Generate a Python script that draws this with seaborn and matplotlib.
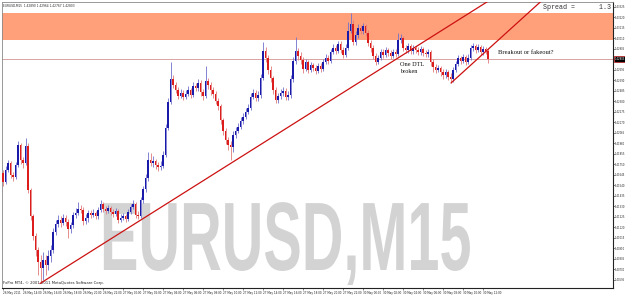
import numpy as np
import matplotlib
matplotlib.use("Agg")
import matplotlib.pyplot as plt
import seaborn as sns
from matplotlib.patheffects import AbstractPathEffect
from matplotlib.transforms import Affine2D, blended_transform_factory

# ---------------- data (EURUSD M15) ----------------
opens = [1.4166,1.4157,1.4169,1.4176,1.4164,1.4162,1.4174,1.4194,1.4179,1.4176,
 1.4193,1.4149,1.4123,1.4103,1.4089,1.4077,1.4071,1.4079,1.4074,1.4083,
 1.4089,1.4107,1.4115,1.4119,1.4116,1.4121,1.4117,1.4110,1.4114,1.4124,
 1.4126,1.4130,1.4129,1.4118,1.4121,1.4126,1.4124,1.4126,1.4123,1.4129,
 1.4135,1.4130,1.4128,1.4131,1.4127,1.4125,1.4128,1.4119,1.4121,1.4123,
 1.4120,1.4127,1.4132,1.4135,1.4124,1.4123,1.4139,1.4150,1.4161,1.4179,
 1.4176,1.4178,1.4174,1.4172,1.4173,1.4184,1.4211,1.4237,1.4260,1.4254,
 1.4249,1.4243,1.4246,1.4242,1.4245,1.4249,1.4244,1.4253,1.4251,1.4256,
 1.4247,1.4243,1.4258,1.4254,1.4249,1.4245,1.4238,1.4233,1.4219,1.4208,
 1.4199,1.4194,1.4192,1.4204,1.4208,1.4212,1.4218,1.4222,1.4227,1.4231,
 1.4242,1.4246,1.4241,1.4244,1.4261,1.4288,1.4281,1.4269,1.4261,1.4249,
 1.4239,1.4243,1.4246,1.4248,1.4242,1.4244,1.4260,1.4278,1.4288,1.4283,
 1.4279,1.4270,1.4277,1.4269,1.4274,1.4271,1.4268,1.4273,1.4270,1.4277,
 1.4281,1.4278,1.4287,1.4291,1.4288,1.4295,1.4289,1.4284,1.4291,1.4308,
 1.4315,1.4297,1.4304,1.4311,1.4308,1.4313,1.4306,1.4296,1.4291,1.4283,
 1.4277,1.4281,1.4287,1.4284,1.4289,1.4286,1.4283,1.4287,1.4285,1.4299,
 1.4301,1.4291,1.4289,1.4293,1.4288,1.4291,1.4289,1.4287,1.4290,1.4286,
 1.4285,1.4287,1.4277,1.4272,1.4269,1.4271,1.4267,1.4264,1.4267,1.4262,
 1.4260,1.4269,1.4275,1.4281,1.4278,1.4282,1.4277,1.4281,1.4291,1.4293,
 1.4289,1.4292,1.4287,1.4290,1.4288]
highs = [1.4169,1.4173,1.4179,1.4178,1.4167,1.4177,1.4198,1.4196,1.4182,1.4201,
 1.4196,1.4151,1.4125,1.4106,1.4092,1.4084,1.4087,1.4084,1.4089,1.4094,
 1.4111,1.4119,1.4124,1.4123,1.4125,1.4124,1.4120,1.4117,1.4127,1.4131,
 1.4137,1.4134,1.4132,1.4125,1.4129,1.4129,1.4130,1.4128,1.4132,1.4139,
 1.4137,1.4133,1.4134,1.4133,1.4130,1.4131,1.4130,1.4125,1.4126,1.4125,
 1.4130,1.4135,1.4139,1.4137,1.4128,1.4142,1.4153,1.4165,1.4187,1.4186,
 1.4183,1.4180,1.4177,1.4178,1.4188,1.4215,1.4241,1.4277,1.4264,1.4257,
 1.4252,1.4250,1.4249,1.4249,1.4253,1.4251,1.4257,1.4256,1.4260,1.4259,
 1.4250,1.4273,1.4261,1.4257,1.4252,1.4248,1.4241,1.4235,1.4221,1.4211,
 1.4202,1.4198,1.4208,1.4212,1.4216,1.4222,1.4226,1.4231,1.4235,1.4246,
 1.4250,1.4249,1.4248,1.4265,1.4297,1.4292,1.4284,1.4273,1.4263,1.4252,
 1.4246,1.4250,1.4252,1.4251,1.4248,1.4264,1.4282,1.4302,1.4291,1.4287,
 1.4282,1.4280,1.4279,1.4277,1.4276,1.4274,1.4276,1.4276,1.4280,1.4285,
 1.4284,1.4290,1.4295,1.4294,1.4298,1.4298,1.4292,1.4295,1.4317,1.4326,
 1.4319,1.4308,1.4315,1.4314,1.4316,1.4315,1.4309,1.4299,1.4294,1.4286,
 1.4284,1.4290,1.4290,1.4292,1.4291,1.4289,1.4290,1.4290,1.4306,1.4305,
 1.4303,1.4294,1.4296,1.4295,1.4294,1.4293,1.4292,1.4293,1.4292,1.4289,
 1.4290,1.4289,1.4280,1.4275,1.4274,1.4273,1.4270,1.4270,1.4269,1.4266,
 1.4272,1.4278,1.4284,1.4283,1.4285,1.4284,1.4285,1.4294,1.4296,1.4295,
 1.4295,1.4294,1.4293,1.4292,1.4291]
lows = [1.4153,1.4155,1.4167,1.4161,1.4158,1.4160,1.4172,1.4175,1.4171,1.4174,
 1.4146,1.4119,1.4099,1.4083,1.4064,1.4056,1.4059,1.4064,1.4069,1.4077,
 1.4086,1.4104,1.4112,1.4112,1.4114,1.4113,1.4101,1.4106,1.4111,1.4121,
 1.4124,1.4126,1.4114,1.4115,1.4117,1.4121,1.4122,1.4120,1.4120,1.4127,
 1.4127,1.4125,1.4126,1.4124,1.4122,1.4123,1.4116,1.4117,1.4119,1.4117,
 1.4118,1.4125,1.4130,1.4121,1.4120,1.4121,1.4136,1.4147,1.4158,1.4173,
 1.4172,1.4170,1.4168,1.4169,1.4171,1.4182,1.4209,1.4235,1.4251,1.4246,
 1.4240,1.4241,1.4239,1.4240,1.4243,1.4241,1.4242,1.4248,1.4248,1.4243,
 1.4239,1.4241,1.4250,1.4244,1.4241,1.4235,1.4229,1.4215,1.4204,1.4195,
 1.4189,1.4179,1.4187,1.4201,1.4206,1.4210,1.4215,1.4220,1.4225,1.4229,
 1.4240,1.4238,1.4238,1.4241,1.4259,1.4277,1.4265,1.4257,1.4245,1.4236,
 1.4236,1.4240,1.4243,1.4239,1.4239,1.4241,1.4257,1.4275,1.4279,1.4275,
 1.4266,1.4268,1.4266,1.4267,1.4268,1.4265,1.4266,1.4267,1.4268,1.4275,
 1.4275,1.4276,1.4285,1.4285,1.4286,1.4286,1.4281,1.4282,1.4289,1.4306,
 1.4294,1.4294,1.4301,1.4305,1.4305,1.4303,1.4293,1.4287,1.4280,1.4274,
 1.4275,1.4279,1.4281,1.4282,1.4283,1.4280,1.4281,1.4282,1.4283,1.4296,
 1.4288,1.4286,1.4286,1.4285,1.4285,1.4286,1.4284,1.4284,1.4283,1.4282,
 1.4282,1.4273,1.4267,1.4266,1.4267,1.4263,1.4260,1.4261,1.4259,1.4256,
 1.4257,1.4267,1.4273,1.4275,1.4276,1.4274,1.4275,1.4279,1.4288,1.4286,
 1.4287,1.4284,1.4284,1.4285,1.4276]
closes = [1.4157,1.4169,1.4176,1.4164,1.4162,1.4174,1.4194,1.4179,1.4176,1.4193,
 1.4149,1.4123,1.4103,1.4089,1.4077,1.4071,1.4079,1.4074,1.4083,1.4089,
 1.4107,1.4115,1.4119,1.4116,1.4121,1.4117,1.4110,1.4114,1.4124,1.4126,
 1.4130,1.4129,1.4118,1.4121,1.4126,1.4124,1.4126,1.4123,1.4129,1.4135,
 1.4130,1.4128,1.4131,1.4127,1.4125,1.4128,1.4119,1.4121,1.4123,1.4120,
 1.4127,1.4132,1.4135,1.4124,1.4123,1.4139,1.4150,1.4161,1.4179,1.4176,
 1.4178,1.4174,1.4172,1.4173,1.4184,1.4211,1.4237,1.4260,1.4254,1.4249,
 1.4243,1.4246,1.4242,1.4245,1.4249,1.4244,1.4253,1.4251,1.4256,1.4247,
 1.4243,1.4258,1.4254,1.4249,1.4245,1.4238,1.4233,1.4219,1.4208,1.4199,
 1.4194,1.4192,1.4204,1.4208,1.4212,1.4218,1.4222,1.4227,1.4231,1.4242,
 1.4246,1.4241,1.4244,1.4261,1.4288,1.4281,1.4269,1.4261,1.4249,1.4239,
 1.4243,1.4246,1.4248,1.4242,1.4244,1.4260,1.4278,1.4288,1.4283,1.4279,
 1.4270,1.4277,1.4269,1.4274,1.4271,1.4268,1.4273,1.4270,1.4277,1.4281,
 1.4278,1.4287,1.4291,1.4288,1.4295,1.4289,1.4284,1.4291,1.4308,1.4315,
 1.4297,1.4304,1.4311,1.4308,1.4313,1.4306,1.4296,1.4291,1.4283,1.4277,
 1.4281,1.4287,1.4284,1.4289,1.4286,1.4283,1.4287,1.4285,1.4299,1.4301,
 1.4291,1.4289,1.4293,1.4288,1.4291,1.4289,1.4287,1.4290,1.4286,1.4285,
 1.4287,1.4277,1.4272,1.4269,1.4271,1.4267,1.4264,1.4267,1.4262,1.4260,
 1.4269,1.4275,1.4281,1.4278,1.4282,1.4277,1.4281,1.4291,1.4293,1.4289,
 1.4292,1.4287,1.4290,1.4288,1.4280]

time_labels = ["26 May 2011", "26 May 14:00", "26 May 16:00", "26 May 18:00", "26 May 20:00",
               "26 May 22:00", "27 May 00:00", "27 May 02:00", "27 May 04:00", "27 May 06:00",
               "27 May 08:00", "27 May 10:00", "27 May 12:00", "27 May 14:00", "27 May 16:00",
               "27 May 18:00", "27 May 20:00", "27 May 22:00", "30 May 00:00", "30 May 02:00",
               "30 May 04:00", "30 May 06:00", "30 May 08:00", "30 May 10:00", "30 May 12:00"]
price_labels = ["1.43325", "1.43220", "1.43115", "1.43010", "1.42905", "1.42800", "1.42695",
                "1.42590", "1.42485", "1.42380", "1.42275", "1.42170", "1.42065", "1.41960",
                "1.41855", "1.41750", "1.41645", "1.41540", "1.41435", "1.41330", "1.41225",
                "1.41120", "1.41015", "1.40910", "1.40805", "1.40700", "1.40595"]

zone_low, zone_high = 1.4299, 1.4326      # resistance zone
bid_price = 1.4280
trend_a_x, trend_a_y = [14.8, 198.0], [1.40555, 1.4344]
trend_b_x, trend_b_y = [179.2, 218.0], [1.4256, 1.4344]
bars_per_label = 8

# ---------------- drawing ----------------
sns.set_style("white")
plt.rcParams['font.family'] = ['DejaVu Sans']

W, H = 625, 296
fig = plt.figure(figsize=(W / 100, H / 100), dpi=100)
fig.patch.set_facecolor("white")
ax = fig.add_axes([2 / W, 8 / H, 611 / W, 286 / H])
ax.set_facecolor("white")

o = np.array(opens); h = np.array(highs); l = np.array(lows); c = np.array(closes)
x = np.arange(len(c))
up = c >= o


class Stretch(AbstractPathEffect):
    """Scale the glyph outlines about an anchor point (condensed terminal font look)."""
    def __init__(self, sx, sy, anchor_func):
        super().__init__()
        self.sx, self.sy = sx, sy
        self.anchor_func = anchor_func

    def draw_path(self, renderer, gc, tpath, affine, rgbFace=None):
        x0, y0 = self.anchor_func()
        aff = affine + Affine2D().translate(-x0, -y0).scale(self.sx, self.sy).translate(x0, y0)
        renderer.draw_path(gc, tpath, aff, rgbFace)


wm_x, wm_y = (100 - 2) / 611, (288 - 270) / 286
ax.text(wm_x, wm_y, "EURUSD,M15", transform=ax.transAxes, ha="left", va="baseline",
        fontsize=50, fontweight="bold", family=["Liberation Sans", "DejaVu Sans"],
        color="#d3d3d3", zorder=0.5,
        path_effects=[Stretch(0.83, 1.40, lambda: ax.transAxes.transform((wm_x, wm_y)))])

ax.axhspan(zone_low, zone_high, color="#ffa07a", lw=0, zorder=1)
ax.axhline(bid_price, color="#d08a8a", lw=0.55, zorder=2)

# candles
ax.vlines(x[up], l[up], h[up], color="#7070cc", lw=0.6, zorder=3)
ax.vlines(x[~up], l[~up], h[~up], color="#e07a7a", lw=0.6, zorder=3)
ax.bar(x[up], np.maximum(c[up] - o[up], 0.00012), bottom=o[up], width=0.7,
       color="#1a1aaa", lw=0, zorder=4)
ax.bar(x[~up], np.maximum(o[~up] - c[~up], 0.00012), bottom=c[~up], width=0.7,
       color="#dd1c1c", lw=0, zorder=4)

# trend lines
sns.lineplot(x=trend_a_x, y=trend_a_y, ax=ax, color="#cc1111", lw=0.9, zorder=5)
sns.lineplot(x=trend_b_x, y=trend_b_y, ax=ax, color="#cc1111", lw=0.9, zorder=5)

ax.set_xlim(-0.4, 244.0)
ax.set_ylim(1.4051, 1.4337)

# axes / ticks
ax.yaxis.tick_right()
ax.set_yticks([float(v) for v in price_labels])
ax.set_yticklabels(price_labels, fontsize=1.8, color="#222222")
ax.set_xticks(np.arange(len(time_labels)) * bars_per_label)
ax.set_xticklabels(time_labels, fontsize=2.0, color="#222222", ha="left")
ax.tick_params(axis="y", length=1.1, width=0.4, pad=0.3, right=True, left=False)
ax.tick_params(axis="x", length=1.5, width=0.4, pad=0.8, bottom=True)
for side in ["top", "left"]:
    ax.spines[side].set_color("#888888")
    ax.spines[side].set_linewidth(0.6)
for side in ["right", "bottom"]:
    ax.spines[side].set_color("#222222")
    ax.spines[side].set_linewidth(0.8)

# current price tag
bt = blended_transform_factory(ax.transAxes, ax.transData)
ax.text(1.003, bid_price, "1.42803", transform=bt, ha="left", va="center", fontsize=1.8,
        color="white", zorder=10, clip_on=False,
        bbox=dict(boxstyle="square,pad=0.3", fc="black", ec="#cc2222", lw=0.5))

# texts
ax.text(0.002, 0.993, "EURUSD,M15  1.42890 1.42964 1.42767 1.42803", transform=ax.transAxes,
        ha="left", va="top", fontsize=2.1, color="#222222")
ax.text(0.002, 0.012, "FxPro MT4, \u00a9 2001-2011 MetaQuotes Software Corp.", transform=ax.transAxes,
        ha="left", va="bottom", fontsize=2.7, color="#222222")
ax.text((542.7 - 2) / 611, 1 - (7.5 - 2) / 286, "Spread =      1.3", transform=ax.transAxes,
        ha="left", va="center", fontsize=4.8, family=["Liberation Mono", "DejaVu Sans Mono"],
        color="#333333")
serif = ["Liberation Serif", "DejaVu Serif"]
ax.text((400 - 2) / 611, 1 - (64 - 2) / 286, "One DTL", transform=ax.transAxes,
        ha="left", va="center", fontsize=4.5, family=serif, color="#111111")
ax.text((400 - 2) / 611, 1 - (71.5 - 2) / 286, "broken", transform=ax.transAxes,
        ha="left", va="center", fontsize=4.5, family=serif, color="#111111")
ax.text((498 - 2) / 611, 1 - (52.5 - 2) / 286, "Breakout or fakeout?", transform=ax.transAxes,
        ha="left", va="center", fontsize=4.7, family=serif, color="#111111")

fig.savefig("out.png", dpi=100, facecolor="white")
